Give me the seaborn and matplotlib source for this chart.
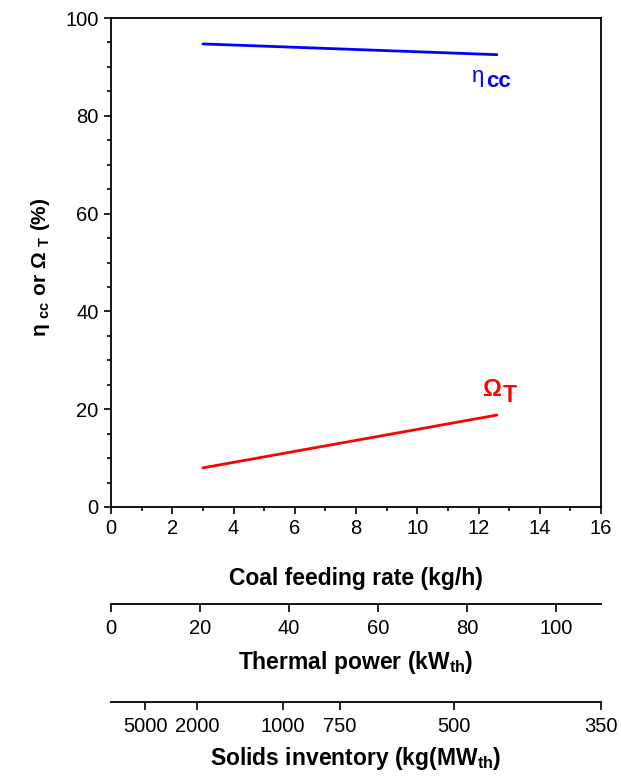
import numpy as np
import pandas as pd
import matplotlib
matplotlib.use("Agg")
import matplotlib.pyplot as plt
import seaborn as sns

# ---- data ----
coal_feed = [3.0, 12.6]
eta_cc = [94.7, 92.5]
omega_t = [8.0, 18.8]

thermal_ticks = [0, 20, 40, 60, 80, 100]
inventory_ticks = [5000, 2000, 1000, 750, 500, 350]
kw_per_kgh = 6.875          # thermal power per coal feed (kW per kg/h)
inv_const = 38500.0         # solids inventory * thermal power

sns.set_theme(style="ticks")
plt.rcParams["font.family"] = ["Liberation Sans", "DejaVu Sans"]
plt.rcParams["mathtext.fontset"] = "custom"
plt.rcParams["mathtext.rm"] = "Liberation Sans"
plt.rcParams["mathtext.it"] = "Liberation Sans"
plt.rcParams["mathtext.bf"] = "Liberation Sans:bold"
plt.rcParams["text.color"] = "black"
plt.rcParams["axes.labelcolor"] = "black"
plt.rcParams["xtick.color"] = "black"
plt.rcParams["ytick.color"] = "black"

df = pd.DataFrame({
    "coal": coal_feed * 2,
    "value": eta_cc + omega_t,
    "series": ["eta"] * len(coal_feed) + ["omega"] * len(coal_feed),
})

W, H = 621, 777
TICK_FS = 14.5
LABEL_FS = 16.5
fig = plt.figure(figsize=(W / 100, H / 100), dpi=100)
ax = fig.add_axes([111 / W, 1 - 507 / H, 490 / W, 489 / H])

sns.lineplot(data=df, x="coal", y="value", hue="series",
             palette={"eta": "#0000ff", "omega": "#ff0000"},
             linewidth=2, legend=False, ax=ax)

ax.set_xlim(0, 16)
ax.set_ylim(0, 100)
ax.set_xticks(np.arange(0, 17, 2))
ax.set_xticks(np.arange(1, 16, 2), minor=True)
ax.set_yticks(np.arange(0, 101, 20))
ax.set_yticks(np.arange(5, 100, 5), minor=True)
ax.tick_params(axis="both", which="major", direction="out", length=5, width=1.2,
               labelsize=TICK_FS, colors="black", pad=4)
ax.tick_params(axis="both", which="minor", direction="out", length=3, width=1.2)
for s in ax.spines.values():
    s.set_linewidth(1.3)
    s.set_color("black")
ax.set_xlabel("Coal feeding rate (kg/h)", fontsize=LABEL_FS, fontweight="bold")
ax.xaxis.set_label_coords(356 / W, 1 - 578 / H, transform=fig.transFigure)
ax.xaxis.label.set_va("center")
ax.set_ylabel(r"η $_{\mathregular{cc}}$ or Ω $_{\mathregular{T}}$ (%)", fontsize=15,
              fontweight="bold")
ax.yaxis.set_label_coords(40 / W, 1 - 267 / H, transform=fig.transFigure)
ax.yaxis.label.set_va("center")

ax.text(11.79, 88.0, "η", color="#0000ff", fontsize=16, ha="left", va="center")
ax.text(12.24, 87.1, "cc", color="#0000ff", fontsize=16, fontweight="bold",
        ha="left", va="center")
ax.text(12.14, 24.1, "Ω", color="#ff0000", fontsize=17, fontweight="bold",
        ha="left", va="center")
ax.text(12.8, 22.8, "T", color="#ff0000", fontsize=16.5, fontweight="bold",
        ha="left", va="center")


def extra_axis(y_px, ticks, labels, title, title_y_px):
    a = fig.add_axes([111 / W, 1 - y_px / H, 490 / W, 0.0001])
    a.set_xlim(0, 16)
    for side in ["top", "left", "right"]:
        a.spines[side].set_visible(False)
    a.spines["bottom"].set_linewidth(1.3)
    a.spines["bottom"].set_color("black")
    a.set_yticks([])
    a.set_xticks(ticks)
    a.set_xticklabels(labels)
    a.tick_params(axis="x", direction="out", length=6, width=1.2,
                  labelsize=TICK_FS, colors="black", pad=5)
    a.set_xlabel(title, fontsize=LABEL_FS, fontweight="bold")
    a.xaxis.set_label_coords(356 / W, 1 - title_y_px / H, transform=fig.transFigure)
    a.xaxis.label.set_va("center")
    a.patch.set_alpha(0)
    return a


extra_axis(604, [t / kw_per_kgh for t in thermal_ticks],
           [str(t) for t in thermal_ticks],
           r"Thermal power (kW$_{\mathbf{th}}$)", 662)
extra_axis(702, [inv_const / (v * kw_per_kgh) for v in inventory_ticks],
           [str(v) for v in inventory_ticks],
           r"Solids inventory (kg(MW$_{\mathbf{th}}$)", 758)

fig.savefig("out.png", dpi=100)
